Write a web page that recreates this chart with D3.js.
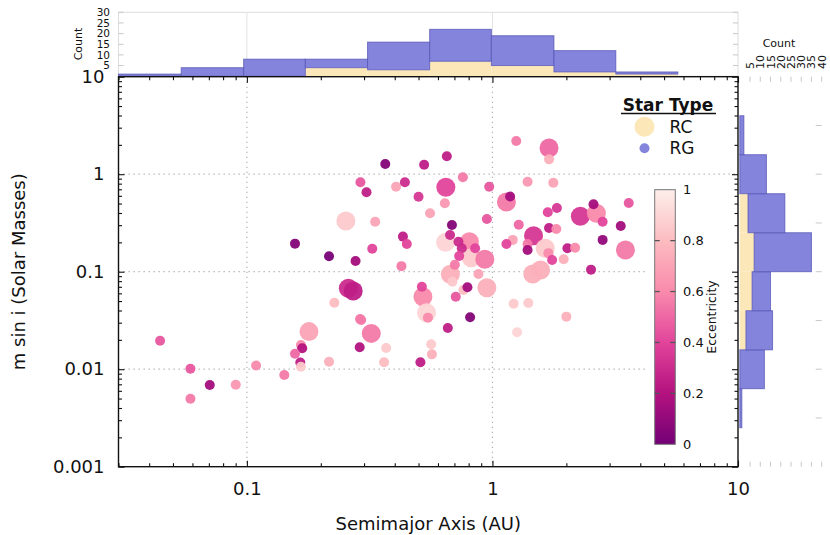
<!DOCTYPE html>
<html>
<head>
<meta charset="utf-8">
<script src="https://cdn.jsdelivr.net/npm/d3@7"></script>
<style>
  body { margin: 0; background: #fff; }
  text { font-family: "DejaVu Sans", sans-serif; fill: #111; }
</style>
</head>
<body>
<svg id="chart" width="830" height="535"></svg>
<script>
// red clump stars (large markers): semimajor axis (AU), m sin i (Msun), eccentricity
var rcA = [0.259, 0.271, 0.179, 0.646, 0.253, 0.644, 0.806, 0.819, 0.931, 0.674, 0.949, 0.521,
           0.539, 0.321, 1.70, 1.14, 1.47, 1.64, 2.28, 2.65, 3.48, 1.46, 1.57];
var rcM = [0.0676, 0.0634, 0.0243, 0.734, 0.331, 0.200, 0.203, 0.139, 0.134, 0.094, 0.0686, 0.0554,
           0.038, 0.0233, 1.86, 0.519, 0.234, 0.174, 0.370, 0.397, 0.167, 0.0947, 0.104];
var rcE = [0.3, 0.25, 0.7, 0.4, 0.85, 0.9, 0.6, 0.85, 0.55, 0.75, 0.75, 0.6,
           0.9, 0.55, 0.5, 0.55, 0.35, 0.85, 0.35, 0.6, 0.55, 0.75, 0.75];

// red giant stars (small markers)
var rgA = [0.157, 0.216, 0.277, 0.227, 0.289, 0.0443, 0.166, 0.168, 0.157, 0.165,
           0.166, 0.216, 0.288, 0.0589, 0.109, 0.142, 0.0706, 0.0901, 0.0589, 0.366,
           0.527, 0.652, 0.290, 0.307, 0.405, 0.440, 0.758, 0.970, 0.500, 0.640,
           0.333, 0.557, 0.949, 0.684, 0.324, 0.432, 0.448, 0.426, 0.672, 0.727,
           0.750, 0.732, 0.850, 0.703, 0.687, 0.877, 0.516, 0.762, 0.791, 0.709,
           0.546, 0.811, 0.658, 0.292, 0.369, 0.362, 0.509, 0.563, 0.567, 1.25,
           1.70, 1.39, 1.77, 1.18, 1.28, 1.68, 1.83, 1.70, 1.82, 1.21,
           1.14, 1.39, 1.39, 1.69, 1.75, 1.95, 2.02, 2.17, 2.58, 2.81,
           3.59, 3.33, 2.81, 2.52, 1.22, 1.40, 2.00, 1.26];
var rgM = [0.194, 0.144, 0.129, 0.0481, 0.0327, 0.0196, 0.0177, 0.0164, 0.0144, 0.0117,
           0.0106, 0.0119, 0.0168, 0.0101, 0.0109, 0.00872, 0.00689, 0.00694, 0.00498, 1.27,
           1.25, 1.53, 0.826, 0.652, 0.744, 0.826, 0.929, 0.744, 0.588, 0.503,
           0.326, 0.397, 0.347, 0.301, 0.172, 0.229, 0.192, 0.114, 0.238, 0.203,
           0.174, 0.145, 0.174, 0.118, 0.0789, 0.0947, 0.0702, 0.0649, 0.0692, 0.0554,
           0.0338, 0.0341, 0.0265, 0.0320, 0.0165, 0.0118, 0.0118, 0.0180, 0.0142, 2.19,
           1.42, 0.838, 0.818, 0.590, 0.303, 0.407, 0.450, 0.281, 0.274, 0.212,
           0.192, 0.192, 0.167, 0.155, 0.132, 0.134, 0.174, 0.176, 0.491, 0.326,
           0.507, 0.294, 0.212, 0.105, 0.0470, 0.0478, 0.0346, 0.0239];
var rgE = [0.05, 0.02, 0.15, 0.8, 0.55, 0.45, 0.6, 0.2, 0.5, 0.25,
           0.85, 0.75, 0.2, 0.45, 0.6, 0.55, 0.15, 0.65, 0.55, 0.05,
           0.25, 0.25, 0.45, 0.25, 0.7, 0.3, 0.55, 0.45, 0.35, 0.65,
           0.7, 0.7, 0.45, 0.05, 0.4, 0.25, 0.4, 0.55, 0.3, 0.3,
           0.3, 0.4, 0.4, 0.55, 0.85, 0.7, 0.4, 0.8, 0.15, 0.45,
           0.6, 0.05, 0.25, 0.55, 0.85, 0.8, 0.25, 0.85, 0.75, 0.55,
           0.75, 0.65, 0.7, 0.15, 0.5, 0.4, 0.35, 0.25, 0.6, 0.7,
           0.4, 0.55, 0.15, 0.6, 0.4, 0.75, 0.25, 0.6, 0.15, 0.4,
           0.45, 0.15, 0.1, 0.25, 0.85, 0.85, 0.75, 0.9];

// stacked histograms (RC at the bottom, RG on top)
var aBinEdges = [0.030, 0.054, 0.097, 0.173, 0.31, 0.555, 0.99, 1.78, 3.18, 5.69];
var rcCountA = [0, 0, 0, 4, 3, 7, 5, 2, 1];
var rgCountA = [1, 4, 8, 4, 13, 15, 14, 10, 1];
var mBinEdges = [0.00251, 0.00631, 0.0158, 0.0398, 0.1, 0.251, 0.631, 1.585, 3.98];
var rcCountM = [0, 0, 3, 6, 7, 4, 0, 0];
var rgCountM = [1, 12, 13, 9, 28, 18, 13, 2];

var xMajor = [0.1, 1, 10];
var yMajor = [0.001, 0.01, 0.1, 1, 10];
var countTicksTop = [5, 10, 15, 20, 25, 30];
var countTicksRight = [5, 10, 15, 20, 25, 30, 35, 40];
var eccTicks = [0, 0.2, 0.4, 0.6, 0.8, 1];
var legendTypes = ['RC', 'RG'];

var plot = {left: 118.5, right: 738, top: 76.7, bottom: 466.7},
    rBig = 9.5,
    rSmall = 5,
    rcFill = '#fce7b8',
    rgFill = '#8484dc',
    rgEdge = '#5050b4';

var x = d3.scaleLog().domain([0.03, 10]).range([plot.left, plot.right]),
    y = d3.scaleLog().domain([0.001, 10]).range([plot.bottom, plot.top]),
    yTop = d3.scaleLinear().domain([0, 30]).range([76.2, 12.3]),
    xRight = d3.scaleLinear().domain([0, 40]).range([739.8, 821.7]),
    color = d3.scaleLinear()
              .domain(eccTicks)
              .range(['#730076', '#b3127f', '#e2449b', '#f98aac', '#fcbcc0', '#fdeeeb']);

var fmt = d3.format('~g');
var svg = d3.select('#chart');

function isMajor(v) { return Math.abs(Math.log10(v) - Math.round(Math.log10(v))) < 1e-6; }

// ---- top histogram (semimajor axis)
var histTop = svg.append('g');
histTop.append('rect')
   .attr('x', plot.left).attr('y', yTop(30))
   .attr('width', plot.right - plot.left).attr('height', yTop(0) - yTop(30))
   .attr('fill', 'none').attr('stroke', '#dcdcdc');
histTop.selectAll('.vgrid').data([0.1, 1]).enter().append('line')
   .attr('x1', x).attr('x2', x).attr('y1', yTop(30)).attr('y2', yTop(0))
   .attr('stroke', '#e2e2e2');
histTop.selectAll('.tl').data(countTicksTop).enter().append('line')
   .attr('x1', plot.left).attr('x2', plot.left + 5)
   .attr('y1', yTop).attr('y2', yTop).attr('stroke', '#c8c8c8');
histTop.selectAll('.tr').data(countTicksTop).enter().append('line')
   .attr('x1', plot.right - 5).attr('x2', plot.right)
   .attr('y1', yTop).attr('y2', yTop).attr('stroke', '#c8c8c8');

var binsA = rcCountA.map(function(rc, i) {
  return {x0: aBinEdges[i], x1: aBinEdges[i + 1], rc: rc, rg: rgCountA[i]};
});
histTop.selectAll('.rcA').data(binsA).enter().append('rect')
   .attr('x', function(d) { return x(d.x0); })
   .attr('width', function(d) { return x(d.x1) - x(d.x0); })
   .attr('y', function(d) { return yTop(d.rc); })
   .attr('height', function(d) { return yTop(0) - yTop(d.rc); })
   .attr('fill', rcFill);
histTop.selectAll('.rgA').data(binsA).enter().append('rect')
   .attr('x', function(d) { return x(d.x0); })
   .attr('width', function(d) { return x(d.x1) - x(d.x0); })
   .attr('y', function(d) { return yTop(d.rc + d.rg); })
   .attr('height', function(d) { return yTop(d.rc) - yTop(d.rc + d.rg); })
   .attr('fill', rgFill).attr('stroke', rgEdge).attr('stroke-opacity', 0.7);

histTop.selectAll('.tlab').data(countTicksTop).enter().append('text')
   .attr('x', 110).attr('y', yTop).attr('dy', '0.36em')
   .attr('text-anchor', 'end').style('font-size', '10.5px')
   .text(function(d) { return d; });
histTop.append('text')
   .attr('transform', 'translate(82,44) rotate(-90)')
   .attr('text-anchor', 'middle').style('font-size', '11px')
   .text('Count');

// ---- right histogram (m sin i)
var histRight = svg.append('g');
histRight.selectAll('.rt').data(countTicksRight).enter().append('line')
   .attr('x1', xRight).attr('x2', xRight).attr('y1', plot.top).attr('y2', plot.top + 5)
   .attr('stroke', '#c8c8c8');
histRight.selectAll('.rb').data(countTicksRight).enter().append('line')
   .attr('x1', xRight).attr('x2', xRight).attr('y1', plot.bottom - 5).attr('y2', plot.bottom)
   .attr('stroke', '#c8c8c8');
histRight.selectAll('.rr').data([3.16, 1, 0.316, 0.1, 0.0316, 0.01, 0.00316]).enter().append('line')
   .attr('x1', xRight(40) - 6).attr('x2', xRight(40))
   .attr('y1', y).attr('y2', y).attr('stroke', '#c8c8c8');

var binsM = rcCountM.map(function(rc, i) {
  return {y0: mBinEdges[i], y1: mBinEdges[i + 1], rc: rc, rg: rgCountM[i]};
});
histRight.selectAll('.rcM').data(binsM).enter().append('rect')
   .attr('y', function(d) { return y(d.y1); })
   .attr('height', function(d) { return y(d.y0) - y(d.y1); })
   .attr('x', xRight(0))
   .attr('width', function(d) { return xRight(d.rc) - xRight(0); })
   .attr('fill', rcFill);
histRight.selectAll('.rgM').data(binsM).enter().append('rect')
   .attr('y', function(d) { return y(d.y1); })
   .attr('height', function(d) { return y(d.y0) - y(d.y1); })
   .attr('x', function(d) { return xRight(d.rc); })
   .attr('width', function(d) { return xRight(d.rc + d.rg) - xRight(d.rc); })
   .attr('fill', rgFill).attr('stroke', rgEdge).attr('stroke-opacity', 0.7);

histRight.selectAll('.rlab').data(countTicksRight).enter().append('text')
   .attr('transform', function(d) { return 'translate(' + (xRight(d) + 4) + ',69) rotate(-90)'; })
   .attr('text-anchor', 'start').style('font-size', '11px')
   .text(function(d) { return d; });
histRight.append('text')
   .attr('x', 779).attr('y', 47)
   .attr('text-anchor', 'middle').style('font-size', '11px')
   .text('Count');

// ---- main scatter
var main = svg.append('g');
main.selectAll('.gx').data([0.1, 1]).enter().append('line')
    .attr('x1', x).attr('x2', x).attr('y1', plot.top).attr('y2', plot.bottom)
    .attr('stroke', '#b0b0b0').attr('stroke-width', 1.2).attr('stroke-dasharray', '1.3,3.7');
main.selectAll('.gy').data([0.01, 0.1, 1]).enter().append('line')
    .attr('x1', plot.left).attr('x2', plot.right).attr('y1', y).attr('y2', y)
    .attr('stroke', '#b0b0b0').attr('stroke-width', 1.2).attr('stroke-dasharray', '1.3,3.7');

var points = rcA.map(function(a, i) { return {a: a, m: rcM[i], e: rcE[i], r: rBig}; })
  .concat(rgA.map(function(a, i) { return {a: a, m: rgM[i], e: rgE[i], r: rSmall}; }));

main.selectAll('.pt').data(points).enter().append('circle')
    .attr('cx', function(d) { return x(d.a); })
    .attr('cy', function(d) { return y(d.m); })
    .attr('r', function(d) { return d.r; })
    .attr('fill', function(d) { return color(d.e); })
    .attr('fill-opacity', 0.95);

// ---- colorbar inset
var cb = {x: 654.7, w: 20.6, top: 189.7, bottom: 444.3};
var ecc = d3.scaleLinear().domain([0, 1]).range([cb.bottom, cb.top]);
main.append('rect').attr('x', 645).attr('y', 181).attr('width', 92).attr('height', 276)
    .attr('fill', '#fff');
var grad = svg.append('defs').append('linearGradient')
    .attr('id', 'eccGrad').attr('x1', 0).attr('y1', 1).attr('x2', 0).attr('y2', 0);
grad.selectAll('stop').data(d3.range(0, 1.0001, 0.05)).enter().append('stop')
    .attr('offset', function(d) { return d; })
    .attr('stop-color', function(d) { return color(d); });
main.append('rect').attr('x', cb.x).attr('y', cb.top)
    .attr('width', cb.w).attr('height', cb.bottom - cb.top)
    .attr('fill', 'url(#eccGrad)').attr('stroke', '#777').attr('stroke-width', 1);
var inner = eccTicks.filter(function(d) { return d > 0 && d < 1; });
main.selectAll('.cbl').data(inner).enter().append('line')
    .attr('x1', cb.x).attr('x2', cb.x + 5).attr('y1', ecc).attr('y2', ecc)
    .attr('stroke', '#555').attr('stroke-width', 1.3);
main.selectAll('.cbr').data(inner).enter().append('line')
    .attr('x1', cb.x + cb.w - 5).attr('x2', cb.x + cb.w).attr('y1', ecc).attr('y2', ecc)
    .attr('stroke', '#555').attr('stroke-width', 1.3);
main.selectAll('.cbt').data(eccTicks).enter().append('text')
    .attr('x', 683).attr('y', ecc).attr('dy', '0.36em')
    .style('font-size', '13px')
    .text(function(d) { return fmt(d); });
main.append('text')
    .attr('transform', 'translate(716,317) rotate(-90)')
    .attr('text-anchor', 'middle').style('font-size', '12.5px')
    .text('Eccentricity');

// ---- legend
var legend = main.append('g');
legend.append('text').attr('x', 668).attr('y', 111)
      .attr('text-anchor', 'middle').style('font-size', '17px').style('font-weight', 'bold')
      .text('Star Type');
legend.append('line').attr('x1', 621).attr('x2', 716).attr('y1', 113.5).attr('y2', 113.5)
      .attr('stroke', '#111').attr('stroke-width', 1.5);
var li = legend.selectAll('.li').data(legendTypes).enter().append('g')
      .attr('transform', function(d, i) { return 'translate(644.5,' + (126.7 + i * 21.5) + ')'; });
li.append('circle')
  .attr('r', function(d) { return d === 'RC' ? 10 : 5; })
  .attr('fill', function(d) { return d === 'RC' ? rcFill : rgFill; });
li.append('text').attr('x', 25).attr('dy', '0.36em').style('font-size', '17px')
  .text(function(d) { return d; });

// ---- main axes
var xMinor = x.ticks().filter(function(d) { return !isMajor(d); }),
    yMinor = y.ticks().filter(function(d) { return !isMajor(d); });

function styleAxis(g) {
  g.select('.domain').remove();
  g.selectAll('.tick line').attr('stroke', '#111').attr('stroke-width', 1.1);
  g.selectAll('.tick text').style('font-size', '18px').attr('fill', '#111');
}

svg.append('g').attr('transform', 'translate(0,' + plot.bottom + ')')
   .call(d3.axisBottom(x).tickValues(xMajor).tickFormat(fmt).tickSize(-6).tickPadding(16)).call(styleAxis);
svg.append('g').attr('transform', 'translate(0,' + plot.bottom + ')')
   .call(d3.axisBottom(x).tickValues(xMinor).tickFormat('').tickSize(-3.5)).call(styleAxis);
svg.append('g').attr('transform', 'translate(0,' + plot.top + ')')
   .call(d3.axisTop(x).tickValues(xMajor).tickFormat('').tickSize(-6)).call(styleAxis);
svg.append('g').attr('transform', 'translate(0,' + plot.top + ')')
   .call(d3.axisTop(x).tickValues(xMinor).tickFormat('').tickSize(-3.5)).call(styleAxis);
svg.append('g').attr('transform', 'translate(' + plot.left + ',0)')
   .call(d3.axisLeft(y).tickValues(yMajor).tickFormat(fmt).tickSize(-6).tickPadding(14)).call(styleAxis);
svg.append('g').attr('transform', 'translate(' + plot.left + ',0)')
   .call(d3.axisLeft(y).tickValues(yMinor).tickFormat('').tickSize(-3.5)).call(styleAxis);
svg.append('g').attr('transform', 'translate(' + plot.right + ',0)')
   .call(d3.axisRight(y).tickValues(yMajor).tickFormat('').tickSize(-6)).call(styleAxis);
svg.append('g').attr('transform', 'translate(' + plot.right + ',0)')
   .call(d3.axisRight(y).tickValues(yMinor).tickFormat('').tickSize(-3.5)).call(styleAxis);

svg.append('rect')
   .attr('x', plot.left).attr('y', plot.top)
   .attr('width', plot.right - plot.left).attr('height', plot.bottom - plot.top)
   .attr('fill', 'none').attr('stroke', '#111').attr('stroke-width', 1.4);

svg.append('text')
   .attr('x', (plot.left + plot.right) / 2).attr('y', 530)
   .attr('text-anchor', 'middle').style('font-size', '18px')
   .text('Semimajor Axis (AU)');
svg.append('text')
   .attr('transform', 'translate(25,' + ((plot.top + plot.bottom) / 2) + ') rotate(-90)')
   .attr('text-anchor', 'middle').style('font-size', '18px')
   .text('m sin i (Solar Masses)');
</script>
</body>
</html>
